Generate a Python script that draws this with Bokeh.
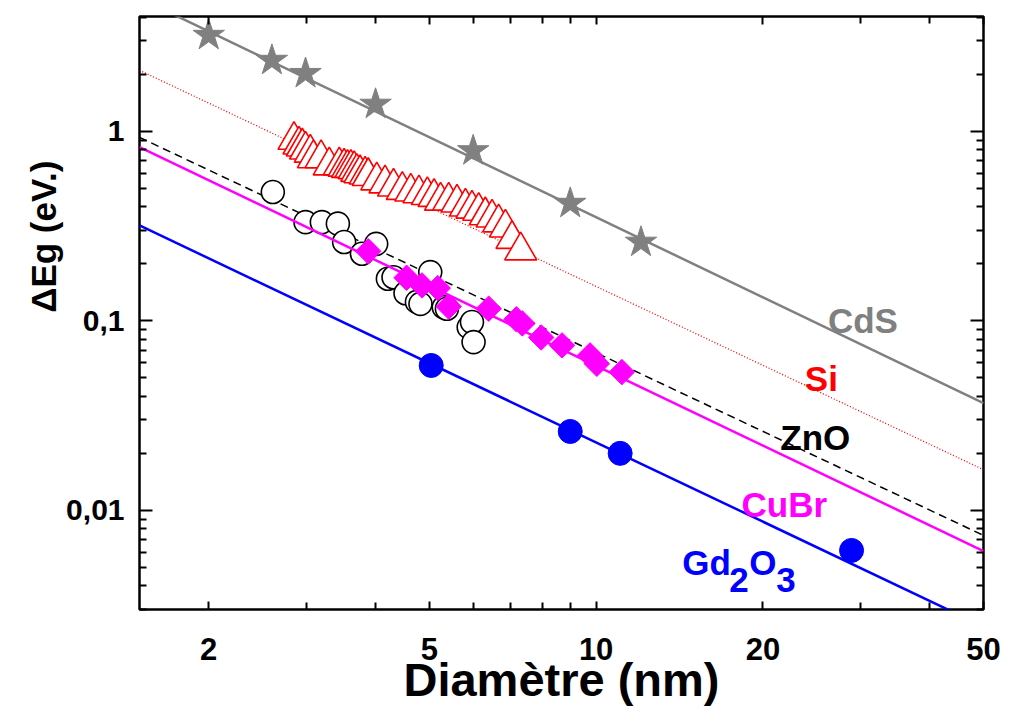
import math
from bokeh.plotting import figure
from bokeh.models import LogAxis, FixedTicker, CustomJSTickFormatter, Label, Range1d, Title
from bokeh.embed import file_html
from bokeh.resources import INLINE

# ---------------- data ----------------
# CdS (stars) and its fit line
cds_x = [2.0, 2.60, 2.99, 4.0, 6.0, 8.98, 12.05]
cds_y = [3.21, 2.37, 2.02, 1.39, 0.79, 0.417, 0.26]
cds_fit_x = [1.5, 50]
cds_fit_y = [5.05, 0.0368]

# Si (open triangles) and its fit line
si_x = [2.85, 2.91, 2.95, 2.99, 3.05, 3.09, 3.19, 3.30, 3.44, 3.51, 3.56, 3.61,
        3.66, 3.70, 3.75, 3.83, 3.88, 4.02, 4.16, 4.31, 4.47, 4.63, 4.79, 4.96,
        5.10, 5.24, 5.42, 5.61, 5.81, 5.97, 6.14, 6.31, 6.49, 6.67, 6.86, 7.05, 7.31]
si_y = [0.90, 0.85, 0.83, 0.80, 0.77, 0.72, 0.72, 0.66, 0.66, 0.65, 0.64, 0.64,
        0.63, 0.61, 0.60, 0.59, 0.58, 0.55, 0.53, 0.51, 0.49, 0.48, 0.47, 0.46,
        0.45, 0.43, 0.43, 0.42, 0.40, 0.39, 0.38, 0.36, 0.35, 0.33, 0.31, 0.27, 0.235]
si_fit_x = [1.5, 50]
si_fit_y = [2.10, 0.0164]

# ZnO (open circles) and its fit line
zno_x = [2.61, 2.99, 3.20, 3.42, 3.51, 3.78, 4.01, 4.21, 4.31, 4.53, 4.75, 4.82,
         5.02, 5.31, 5.38, 5.89, 5.97, 6.01]
zno_y = [0.479, 0.332, 0.332, 0.326, 0.261, 0.226, 0.255, 0.167, 0.170, 0.140,
         0.126, 0.123, 0.181, 0.118, 0.116, 0.0927, 0.0986, 0.0773]
zno_fit_x = [1.5, 50]
zno_fit_y = [0.93, 0.00738]

# CuBr (filled diamonds) and its fit line
cubr_x = [3.88, 4.55, 4.85, 5.18, 5.42, 6.40, 7.18, 7.36, 7.96, 8.68, 9.75, 10.03, 11.13]
cubr_y = [0.233, 0.169, 0.154, 0.149, 0.119, 0.116, 0.102, 0.097, 0.0818, 0.0743,
          0.0658, 0.0594, 0.0537]
cubr_fit_x = [1.5, 50]
cubr_fit_y = [0.826, 0.0061]

# Gd2O3 (filled circles) and its fit line
gd_x = [5.04, 8.98, 11.05, 28.9]
gd_y = [0.0582, 0.0261, 0.0200, 0.00615]
gd_fit_x = [1.5, 50]
gd_fit_y = [0.319, 0.00244]

x_ticks = [2, 5, 10, 20, 50]
x_minor = [3, 4, 6, 7, 8, 9, 30, 40]
y_ticks = [0.01, 0.1, 1]
y_minor = [0.003, 0.004, 0.005, 0.006, 0.007, 0.008, 0.009,
           0.02, 0.03, 0.04, 0.05, 0.06, 0.07, 0.08, 0.09,
           0.2, 0.3, 0.4, 0.5, 0.6, 0.7, 0.8, 0.9, 2, 3, 4]

GRAY = "#808080"
RED = "#ff0000"
MAG = "#ff00ff"
BLUE = "#0000ff"
FONT = "Liberation Sans"

p = figure(width=1012, height=727, x_axis_type="log", y_axis_type="log",
           x_range=Range1d(1.5, 50), y_range=Range1d(0.003, 4.04),
           output_backend="svg", toolbar_location=None,
           min_border_left=139, min_border_right=29, min_border_top=16,
           min_border_bottom=118)
p.grid.visible = False
p.outline_line_color = "black"
p.outline_line_width = 2.5
p.background_fill_color = "white"
p.border_fill_color = "white"

# ---------------- axes ----------------
xt = FixedTicker(ticks=x_ticks, minor_ticks=x_minor)
yt = FixedTicker(ticks=y_ticks, minor_ticks=y_minor)
xfmt = CustomJSTickFormatter(code="return tick.toString();")
yfmt = CustomJSTickFormatter(code="return tick.toString().replace('.', ',');")
blank = CustomJSTickFormatter(code="return '';")

xa = p.xaxis[0]
xa.ticker = xt
xa.formatter = xfmt
ya = p.yaxis[0]
ya.ticker = yt
ya.formatter = yfmt

for ax in (xa, ya):
    ax.axis_line_color = None
    ax.major_tick_out = 0
    ax.minor_tick_out = 0
    ax.major_tick_line_width = 2
    ax.minor_tick_line_width = 2
    ax.major_tick_line_color = "black"
    ax.minor_tick_line_color = "black"
    ax.major_label_text_color = "black"
    ax.axis_label_text_color = "black"

xa.major_tick_in = 8
xa.minor_tick_in = 7
ya.major_tick_in = 13
ya.minor_tick_in = 7

xa.major_label_text_font = FONT
xa.major_label_text_font_style = "bold"
xa.major_label_text_font_size = "31px"
xa.major_label_standoff = 28
xa.axis_label = "Diamètre (nm)"
xa.axis_label_text_font = FONT
xa.axis_label_text_font_style = "bold"
xa.axis_label_text_font_size = "47px"
xa.axis_label_standoff = -10

ya.major_label_text_font = FONT
ya.major_label_text_font_style = "bold"
ya.major_label_text_font_size = "30px"
ya.major_label_standoff = 15

top = LogAxis(ticker=FixedTicker(ticks=x_ticks, minor_ticks=x_minor), formatter=blank,
              axis_line_color=None, major_tick_out=0, minor_tick_out=0,
              major_tick_in=8, minor_tick_in=7, major_tick_line_width=2,
              minor_tick_line_width=2, major_label_standoff=0,
              major_label_text_font_size="1px")
right = LogAxis(ticker=FixedTicker(ticks=y_ticks, minor_ticks=y_minor), formatter=blank,
                axis_line_color=None, major_tick_out=0, minor_tick_out=0,
                major_tick_in=13, minor_tick_in=7, major_tick_line_width=2,
                minor_tick_line_width=2, major_label_standoff=0,
                major_label_text_font_size="1px")
p.add_layout(top, "above")
p.add_layout(right, "right")

# y axis title (placed off-centre, as in the reference)
p.add_layout(Title(text="ΔEg (eV.)", text_color="black", text_font=FONT,
                   text_font_style="bold", text_font_size="35px",
                   align="right", offset=144, standoff=2), "left")

# ---------------- fit lines ----------------
p.line(cds_fit_x, cds_fit_y, line_color=GRAY, line_width=2.5)
p.line(si_fit_x, si_fit_y, line_color=RED, line_width=1.3, line_dash="1 2")
p.line(zno_fit_x, zno_fit_y, line_color="black", line_width=1.5, line_dash="8 5")
p.line(gd_fit_x, gd_fit_y, line_color=BLUE, line_width=2.5)

# ---------------- markers ----------------
p.scatter(si_x, si_y, marker="triangle", size=32, fill_color="white",
          line_color=RED, line_width=1.6)
p.scatter(zno_x, zno_y, marker="circle", size=23, fill_color="white",
          line_color="black", line_width=1.6)
p.line(cubr_fit_x, cubr_fit_y, line_color=MAG, line_width=2.5)
p.scatter(cubr_x, cubr_y, marker="square", size=18, angle=math.pi / 4,
          fill_color=MAG, line_color=MAG)
p.scatter(cds_x, cds_y, marker="star", size=33, fill_color=GRAY, line_color=GRAY)
p.scatter(gd_x, gd_y, marker="circle", size=24, fill_color=BLUE, line_color=BLUE)

# ---------------- series labels ----------------
def lab(x, y, text, color, xo=0, yo=0):
    p.add_layout(Label(x=x, y=y, text=text, text_color=color, text_font=FONT,
                       text_font_style="bold", text_font_size="35px",
                       text_align="left", text_baseline="alphabetic",
                       x_offset=xo, y_offset=yo))

lab(26.2, 0.1006, "CdS", GRAY)
lab(23.8, 0.0497, "Si", RED)
lab(21.5, 0.0243, "ZnO", "black")
lab(18.3, 0.01075, "CuBr", MAG)
lab(14.3, 0.00532, "Gd", BLUE)
lab(14.3, 0.00532, "2", BLUE, xo=47, yo=-18)
lab(14.3, 0.00532, "O", BLUE, xo=67, yo=0)
lab(14.3, 0.00532, "3", BLUE, xo=94, yo=-18)

open("out.html", "w").write(file_html(p, INLINE))
